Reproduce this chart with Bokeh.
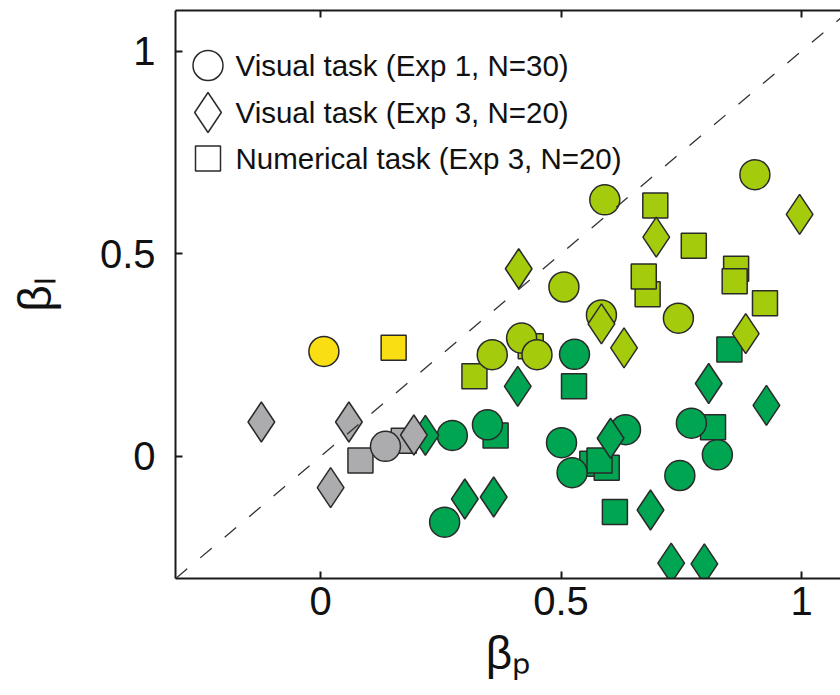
import math
from bokeh.plotting import figure
from bokeh.models import ColumnDataSource, Range1d, LinearAxis, FixedTicker, Slope, Label
from bokeh.embed import file_html
from bokeh.resources import INLINE

# ---------------- data (beta_p, beta_I) ----------------
# Numerical task (Exp 3, N=20) -- squares
square_x = [0.152, 0.083, 0.173,
            0.680, 0.672, 0.696, 0.776, 0.864, 0.861, 0.924, 0.320, 0.437,
            0.850, 0.527, 0.364, 0.565, 0.595, 0.580, 0.612, 0.816]
square_y = [0.268, -0.010, 0.039,
            0.400, 0.444, 0.619, 0.520, 0.463, 0.432, 0.378, 0.198, 0.272,
            0.264, 0.173, 0.052, -0.018, -0.028, -0.010, -0.137, 0.072]
square_group = ["yellow", "gray", "gray",
                "light", "light", "light", "light", "light", "light", "light", "light", "light",
                "dark", "dark", "dark", "dark", "dark", "dark", "dark", "dark"]

# Visual task (Exp 1, N=30) -- circles
circle_x = [0.007, 0.135,
            0.591, 0.903, 0.506, 0.584, 0.744, 0.418, 0.450, 0.357,
            0.528, 0.274, 0.347, 0.501, 0.523, 0.634, 0.747, 0.771, 0.825, 0.258]
circle_y = [0.259, 0.025,
            0.633, 0.695, 0.418, 0.349, 0.341, 0.292, 0.251, 0.251,
            0.252, 0.052, 0.078, 0.034, -0.040, 0.066, -0.047, 0.082, 0.004, -0.162]
circle_group = ["yellow", "gray",
                "light", "light", "light", "light", "light", "light", "light", "light",
                "dark", "dark", "dark", "dark", "dark", "dark", "dark", "dark", "dark", "dark"]

# Visual task (Exp 3, N=20) -- diamonds
diamond_x = [0.807, 0.927, 0.410, 0.218, 0.300, 0.360, 0.603, 0.686, 0.729, 0.798,
             0.412, 0.996, 0.698, 0.584, 0.631, 0.884,
             -0.123, 0.059, 0.021, 0.194]
diamond_y = [0.180, 0.126, 0.173, 0.052, -0.105, -0.100, 0.045, -0.132, -0.263, -0.265,
             0.463, 0.597, 0.541, 0.327, 0.268, 0.303,
             0.085, 0.085, -0.077, 0.053]
diamond_group = ["dark"] * 10 + ["light"] * 6 + ["gray"] * 4

legend_labels = ["Visual task (Exp 1, N=30)",
                 "Visual task (Exp 3, N=20)",
                 "Numerical task (Exp 3, N=20)"]
ticks = [0, 0.5, 1]
x_title = "\u03b2\u209a"   # beta with subscript p
y_title = "\u03b2\u2097"   # beta with subscript l

# ---------------- style ----------------
COLORS = {"yellow": "#F9DE14", "light": "#A4CC0C", "dark": "#00A551", "gray": "#ACACAE"}
EDGE = "#2a2a2a"
FONT = "Liberation Sans"

W, H = 840, 695
FRAME_L, FRAME_T, FRAME_B = 175, 10, 578
X0, X1 = -0.3015, 1.081
Y0, Y1 = -0.301, 1.100


def dx(px):
    return X0 + (px - FRAME_L) * (X1 - X0) / (W - FRAME_L)


def dy(py):
    return Y0 + (FRAME_B - py) * (Y1 - Y0) / (FRAME_B - FRAME_T)


p = figure(width=W, height=H, x_range=Range1d(X0, X1), y_range=Range1d(Y0, Y1),
           output_backend="svg", toolbar_location=None,
           min_border_left=FRAME_L, min_border_right=0, min_border_top=FRAME_T,
           min_border_bottom=H - FRAME_B)
p.outline_line_color = None
p.xgrid.visible = False
p.ygrid.visible = False
p.background_fill_color = "white"
p.border_fill_color = "white"


def style_axis(ax, labels=True, standoff=8):
    ax.ticker = FixedTicker(ticks=ticks)
    ax.major_tick_in = 7
    ax.major_tick_out = 0
    ax.minor_tick_line_color = None
    ax.axis_line_width = 2
    ax.axis_line_color = "#1a1a1a"
    ax.major_tick_line_width = 2
    ax.major_tick_line_color = "#1a1a1a"
    ax.major_label_text_font = FONT
    ax.major_label_standoff = standoff
    if labels:
        ax.major_label_text_font_size = "40px"
        ax.major_label_text_color = "#111111"
        ax.major_label_overrides = {0: "0", 0.5: "0.5", 1: "1"}
    else:
        ax.major_label_text_font_size = "1px"
        ax.major_label_text_color = None
    ax.axis_label_text_font = FONT
    ax.axis_label_text_font_style = "normal"
    ax.axis_label_text_color = "#111111"
    ax.axis_label_text_font_size = "46px"


style_axis(p.xaxis[0], True, 8)
style_axis(p.yaxis[0], True, 20)
p.xaxis[0].axis_label = x_title
p.xaxis[0].axis_label_standoff = 9
p.yaxis[0].axis_label = y_title
p.yaxis[0].axis_label_standoff = 36
top = LinearAxis()
style_axis(top, False, 0)
p.add_layout(top, "above")


def src(xs, ys, gs):
    return ColumnDataSource(dict(x=xs, y=ys, c=[COLORS[g] for g in gs]))


p.scatter("x", "y", source=src(square_x, square_y, square_group), marker="square",
          size=25, fill_color="c", line_color=EDGE, line_width=1.5)
p.scatter("x", "y", source=src(circle_x, circle_y, circle_group), marker="circle",
          size=30, fill_color="c", line_color=EDGE, line_width=1.5)
p.scatter("x", "y", source=src(diamond_x, diamond_y, diamond_group), marker="diamond",
          size=40, fill_color="c", line_color=EDGE, line_width=1.5)

p.add_layout(Slope(gradient=1, y_intercept=0, line_color="#333333",
                   line_width=1.3, line_dash="15 17"))

# ---------------- legend (drawn by hand) ----------------
leg_rows = [65, 112, 158]
leg_markers = ["circle", "diamond", "square"]
leg_sizes = [30, 40, 25]
for row, mk, sz, txt in zip(leg_rows, leg_markers, leg_sizes, legend_labels):
    p.scatter([dx(207.5)], [dy(row)], marker=mk, size=sz, fill_color="white",
              line_color=EDGE, line_width=1.5)
    p.add_layout(Label(x=235 - FRAME_L, y=FRAME_B - row, x_units="screen", y_units="screen",
                       text=txt, text_font=FONT, text_font_size="29.5px",
                       text_color="#111111", text_align="left", text_baseline="middle"))

open("out.html", "w").write(file_html(p, INLINE))
